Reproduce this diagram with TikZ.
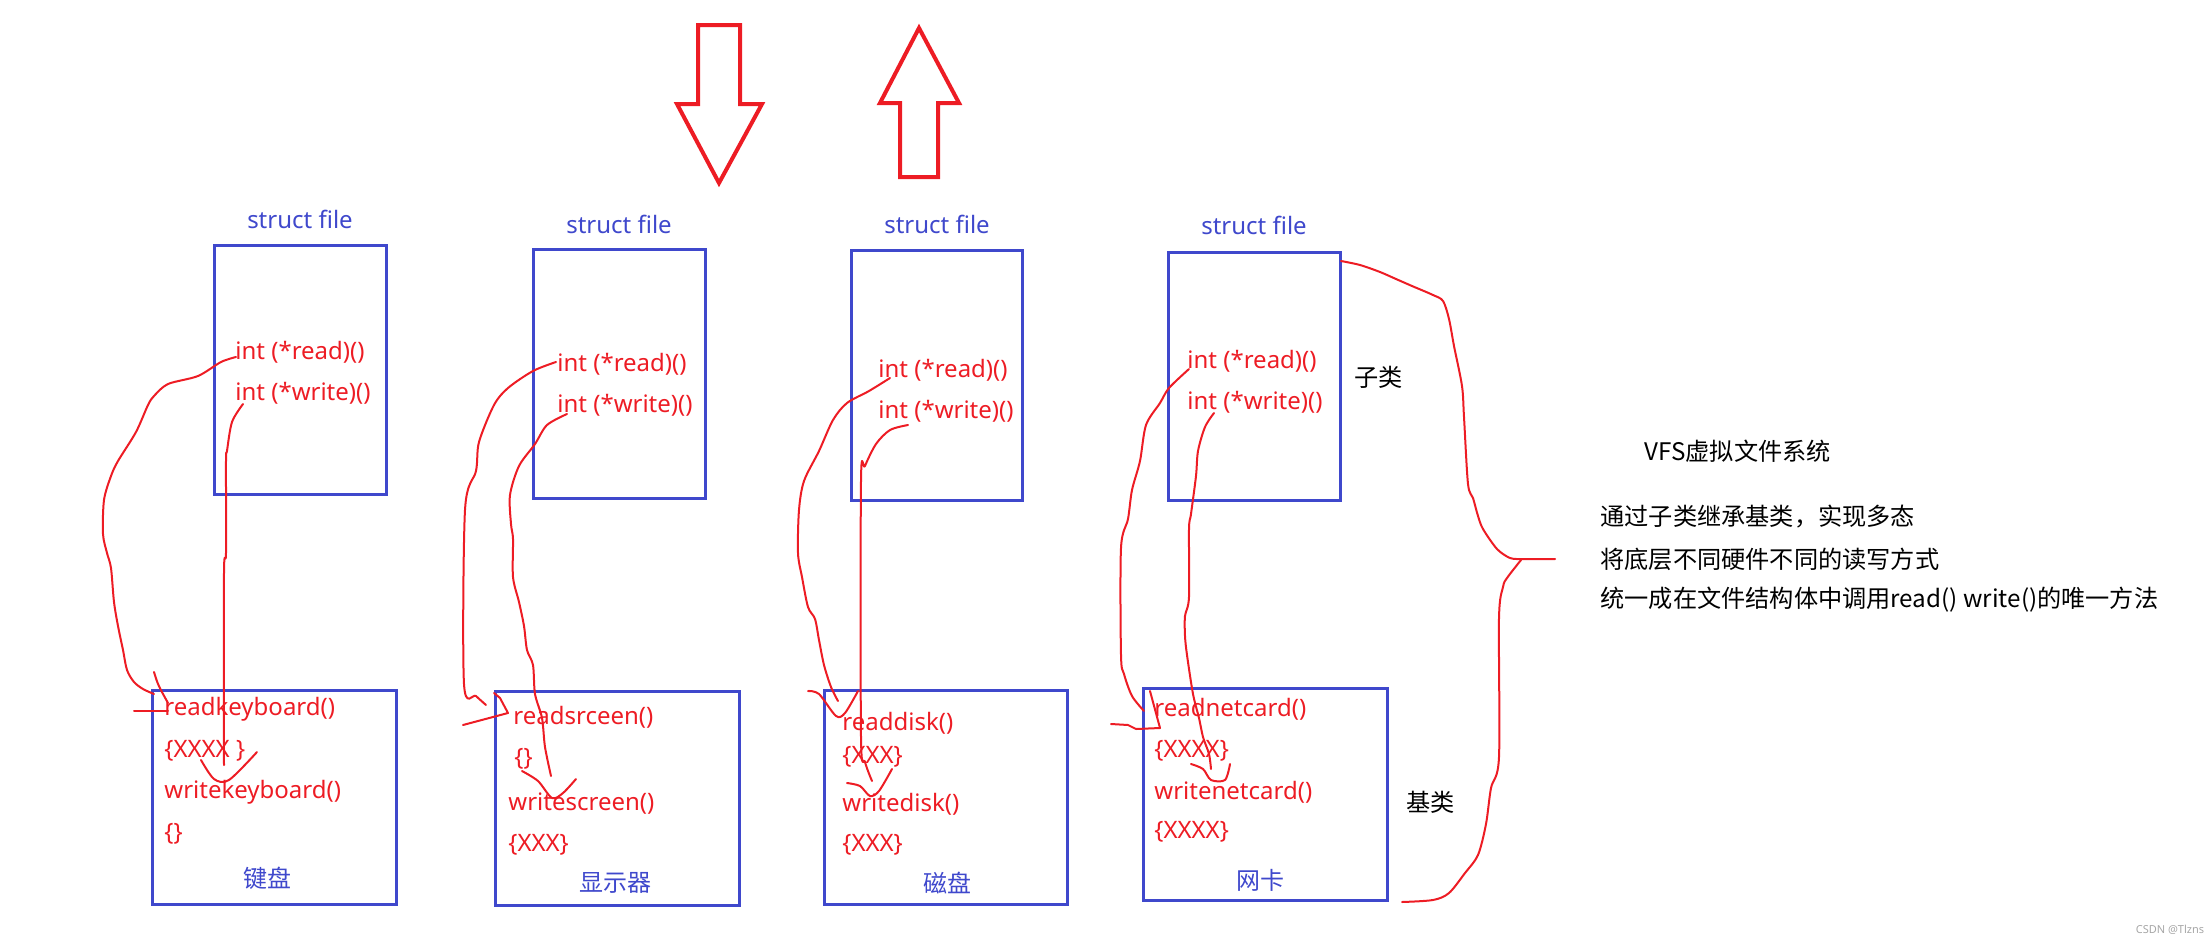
\documentclass[tikz,border=0pt]{standalone}
\usepackage{fontspec}
\setmainfont{Noto Sans}
\newfontfamily\cjk{Noto Sans CJK SC}
\definecolor{pblue}{RGB}{63,72,204}
\definecolor{pred}{RGB}{237,28,36}
\tikzset{
  box/.style={draw=pblue, line width=1.5pt},
  fn/.style={text=pred, font=\fontsize{12}{14}\selectfont, anchor=west, inner sep=0pt},
  lbl/.style={text=pblue, font=\fontsize{12}{14}\selectfont, inner sep=0pt},
  note/.style={text=black, font=\cjk\fontsize{12.1}{14}\selectfont, anchor=west, inner sep=0pt},
  sketch/.style={draw=pred, line width=1pt, line join=round, line cap=round},
  bigarrow/.style={draw=pred, line width=2pt, line join=miter},
}
\begin{document}
\begin{tikzpicture}[x=0.5pt,y=-0.5pt]
\useasboundingbox (0,0) rectangle (2212,943);
% big arrows
\draw[bigarrow] (698,25) -- (740,25) -- (740,104) -- (762,104) -- (719,183) -- (677,104) -- (698,104) -- cycle;
\draw[bigarrow] (919,28) -- (959,103) -- (938,103) -- (938,177) -- (900,177) -- (900,103) -- (880,103) -- cycle;
% top boxes
\draw[box] (214,245) rectangle (386,494);
\draw[box] (533,249) rectangle (705,498);
\draw[box] (851,250) rectangle (1022,500);
\draw[box] (1168,252) rectangle (1340,500);
% bottom boxes
\draw[box] (152,690) rectangle (396,904);
\draw[box] (495,691) rectangle (739,905);
\draw[box] (824,690) rectangle (1067,904);
\draw[box] (1143,688) rectangle (1387,900);
% struct file labels
\node[lbl] (s1) at (300,219) {struct file};
\node[lbl] (s2) at (619,224) {struct file};
\node[lbl] (s3) at (937,224) {struct file};
\node[lbl] (s4) at (1254,225) {struct file};
% int lines
\node[fn] (ir1) at (235,352) {int (*read)()};
\node[fn] (iw1) at (235,393) {int (*write)()};
\node[fn] (ir2) at (557,364) {int (*read)()};
\node[fn] (iw2) at (557,405) {int (*write)()};
\node[fn] (ir3) at (878,370) {int (*read)()};
\node[fn] (iw3) at (878,411) {int (*write)()};
\node[fn] (ir4) at (1187,361) {int (*read)()};
\node[fn] (iw4) at (1187,402) {int (*write)()};
% bottom box 1
\node[fn] (a1) at (164,709) {readkeyboard()};
\node[fn] (a2) at (164,751) {\{XXXX \}};
\node[fn] (a3) at (164,792) {writekeyboard()};
\node[fn] (a4) at (164,834) {\{\}};
\node[lbl,font=\cjk\fontsize{12}{14}\selectfont] (a5) at (267,878) {键盘};
% bottom box 2
\node[fn] (b1) at (513,717) {readsrceen()};
\node[fn] (b2) at (514,759) {\{\}};
\node[fn] (b3) at (508,804) {writescreen()};
\node[fn] (b4) at (508,845) {\{XXX\}};
\node[lbl,font=\cjk\fontsize{12}{14}\selectfont] (b5) at (615,883) {显示器};
% bottom box 3
\node[fn] (c1) at (842,723) {readdisk()};
\node[fn] (c2) at (842,757) {\{XXX\}};
\node[fn] (c3) at (842,804) {writedisk()};
\node[fn] (c4) at (842,845) {\{XXX\}};
\node[lbl,font=\cjk\fontsize{12}{14}\selectfont] (c5) at (947,883) {磁盘};
% bottom box 4
\node[fn] (d1) at (1154,709) {readnetcard()};
\node[fn] (d2) at (1154,751) {\{XXXX\}};
\node[fn] (d3) at (1154,792) {writenetcard()};
\node[fn] (d4) at (1154,832) {\{XXXX\}};
\node[lbl,font=\cjk\fontsize{12}{14}\selectfont] (d5) at (1260,880) {网卡};
% side labels
\node[note] (sub) at (1354,377) {子类};
\node[note] (base) at (1406,802) {基类};
\node[note] (vfs) at (1644,451) {VFS虚拟文件系统};
\node[note] (n1) at (1600,517) {通过子类继承基类，实现多态};
\node[note] (n2) at (1600,559) {将底层不同硬件不同的读写方式};
\node[note] (n3) at (1600,600) {统一成在文件结构体中调用read() write()的唯一方法};
\node[text=black!35, font=\fontsize{5.5}{6}\selectfont, inner sep=0pt] (wm) at (2170,930) {CSDN @Tlzns};
% sketch curves box 1
\draw[sketch] plot[smooth,tension=0.5] coordinates {(236,357) (221,362) (198,376) (168,384) (154,396) (148,405) (136,432) (118,461) (111,476) (104,500) (103,534) (107,553) (111,568) (114,602) (118,626) (123,650) (127,670) (134,682) (143,689) (154,694)};
\draw[sketch] (154,672) .. controls (158,685) .. (168,703);
\draw[sketch] (134,711) -- (168,711);
\draw[sketch] plot[smooth,tension=0.5] coordinates {(243,404) (232,422) (227,451) (226,461) (226,553) (224,573) (224,765)};
\draw[sketch] plot[smooth,tension=0.5] coordinates {(201,760) (214,779) (229,780) (257,752)};
% box 2
\draw[sketch] plot[smooth,tension=0.5] coordinates {(556,362) (533,371) (508,388) (494,405) (479,442) (476,471) (465,510) (464,684) (476,696) (486,705)};
\draw[sketch] (494,693) -- (500,698) -- (508,713) -- (463,725);
\draw[sketch] plot[smooth,tension=0.5] coordinates {(567,414) (547,425) (535,444) (519,466) (510,495) (511,524) (513,539) (513,577) (519,602) (524,626) (527,650) (533,665) (535,694) (542,718) (545,747) (551,776)};
\draw[sketch] plot[smooth,tension=0.5] coordinates {(522,771) (538,781) (552,798) (563,793) (576,779)};
% box 3
\draw[sketch] plot[smooth,tension=0.5] coordinates {(890,378) (869,391) (847,403) (833,420) (819,451) (804,481) (799,510) (798,553) (802,577) (808,607) (815,619) (819,640) (824,665) (831,687) (838,701)};
\draw[sketch] plot[smooth,tension=0.5] coordinates {(808,691) (819,694) (836,716) (845,713) (858,691)};
\draw[sketch] plot[smooth,tension=0.5] coordinates {(908,425) (890,430) (876,444) (865,466) (861,481) (861,737) (865,762) (872,781)};
\draw[sketch] plot[smooth,tension=0.5] coordinates {(847,783) (860,786) (870,796) (879,791) (892,769)};
% box 4
\draw[sketch] plot[smooth,tension=0.5] coordinates {(1189,369) (1169,388) (1160,403) (1146,425) (1140,461) (1132,490) (1128,519) (1121,548) (1121,655) (1124,674) (1132,696) (1144,711)};
\draw[sketch] (1150,691) -- (1160,728) -- (1136,729) -- (1128,725) -- (1111,724);
\draw[sketch] plot[smooth,tension=0.5] coordinates {(1214,413) (1205,427) (1198,451) (1196,476) (1191,514) (1189,529) (1189,597) (1185,616) (1185,636) (1187,655) (1193,694) (1199,718) (1203,737) (1209,754) (1211,769)};
\draw[sketch] plot[smooth,tension=0.5] coordinates {(1191,764) (1203,769) (1211,780) (1225,780) (1230,764)};
% brace
\draw[sketch] plot[smooth,tension=0.5] coordinates {(1341,261) (1360,265) (1380,272) (1396,279) (1412,286) (1433,295) (1443,301) (1449,319) (1454,346) (1462,386) (1464,417) (1468,484) (1473,498) (1478,516) (1483,529) (1497,549) (1510,558) (1521,559)} -- (1555,559);
\draw[sketch] plot[smooth,tension=0.5] coordinates {(1521,560) (1507,578) (1503,587) (1499,618) (1499,757) (1491,788) (1486,824) (1478,855) (1465,873) (1449,893) (1433,900) (1402,902)};
\end{tikzpicture}
\end{document}
